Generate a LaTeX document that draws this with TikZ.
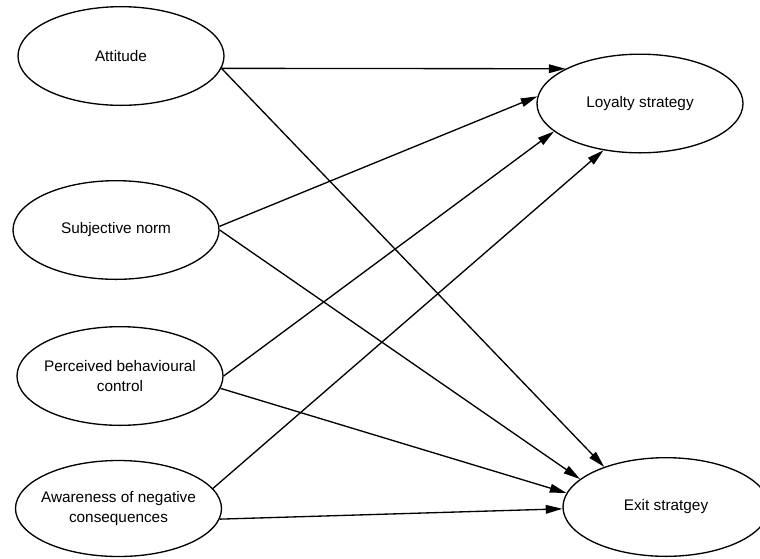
\documentclass[tikz,border=0pt]{standalone}
\usepackage{fontspec}
\setmainfont{Liberation Sans}
\usetikzlibrary{shapes.geometric,arrows.meta}

\tikzset{every picture/.style={line width=1pt}}
\tikzset{
  construct/.style={draw, ellipse, minimum width=154.5pt, minimum height=74pt, inner sep=0pt},
  lbl/.style={align=center, font=\fontsize{11.5}{15}\selectfont, inner sep=0.75pt},
  link/.style={-{Triangle[length=12.5pt,width=6.5pt]}}
}

\begin{document}
\begin{tikzpicture}[x=0.75pt,y=0.75pt,yscale=-1,xscale=1]
	\useasboundingbox (0,0) rectangle (760,558);
	\clip (0,0) rectangle (760,558);

	%Shape: Ellipse [id:att]
	\node[construct, label={[lbl]center:Attitude}] (att) at (121,56) {};
	%Shape: Ellipse [id:sub]
	\node[construct, label={[lbl]center:Subjective norm}] (sub) at (116,230) {};
	%Shape: Ellipse [id:per]
	\node[construct, label={[lbl]center:{Perceived behavioural\\control}}] (per) at (120,376) {};
	%Shape: Ellipse [id:awa]
	\node[construct, minimum height=72pt, label={[lbl]center:{Awareness of negative\\consequences}}] (awa) at (118.5,508.5) {};
	%Shape: Ellipse [id:loy]
	\node[construct, label={[lbl]center:Loyalty strategy}] (loy) at (640,103.5) {};
	%Shape: Ellipse [id:exi]
	\node[construct, label={[lbl]center:Exit stratgey}] (exi) at (666,507) {};

	%Straight Lines [id:att-loy]
	\draw[link] (att.353) -- (loy.155);
	%Straight Lines [id:att-exi]
	\draw[link] (att.353) -- (exi.147.5);
	%Straight Lines [id:sub-loy]
	\draw[link] (sub.2.8) -- (loy.176.2);
	%Straight Lines [id:sub-exi]
	\draw[link] (sub.0) -- (exi.162.9);
	%Straight Lines [id:per-loy]
	\draw[link] (per.0.6) -- (loy.198.4);
	%Straight Lines [id:per-exi]
	\draw[link] (per.353.9) -- (exi.172.3);
	%Straight Lines [id:awa-loy]
	\draw[link] (awa.12.7) -- (loy.232.7);
	%Straight Lines [id:awa-exi]
	\draw[link] (awa.354.5) -- (exi.181.7);
\end{tikzpicture}
\end{document}
